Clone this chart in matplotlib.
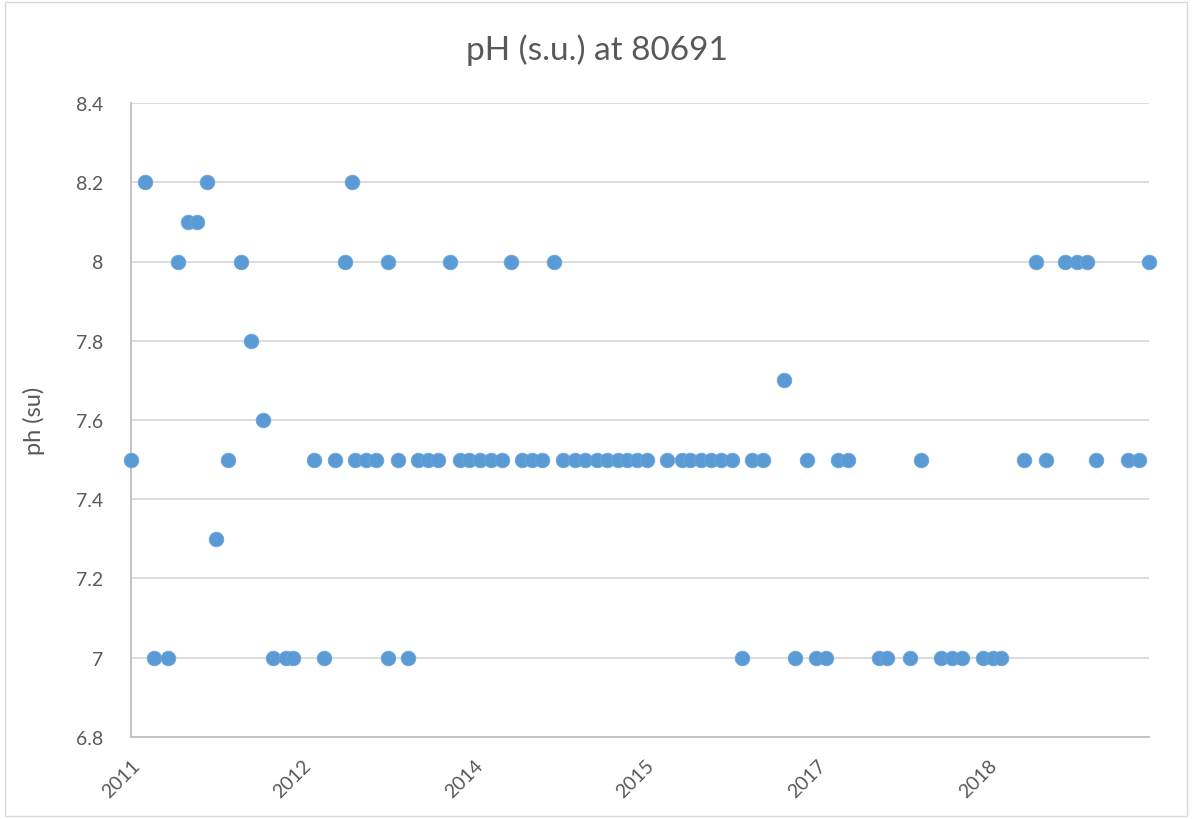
import matplotlib
matplotlib.use("Agg")
import matplotlib.pyplot as plt
import matplotlib.dates as mdates
from matplotlib.ticker import FuncFormatter, FixedLocator
from matplotlib.patches import Rectangle
import pandas as pd

dates = [
    "2011-01-01", "2011-02-14", "2011-03-15", "2011-04-28", "2011-05-31",
    "2011-07-01", "2011-07-30", "2011-08-31", "2011-09-28", "2011-11-08",
    "2011-12-17", "2012-01-19", "2012-02-26", "2012-03-30", "2012-05-10",
    "2012-06-02", "2012-08-08", "2012-09-09", "2012-10-14", "2012-11-15",
    "2012-12-07", "2012-12-17", "2013-01-21", "2013-02-22", "2013-04-01",
    "2013-04-01", "2013-05-03", "2013-06-04", "2013-07-06", "2013-08-07",
    "2013-09-08", "2013-10-16", "2013-11-17", "2013-12-16", "2014-01-20",
    "2014-02-24", "2014-03-31", "2014-04-29", "2014-06-03", "2014-07-04",
    "2014-08-06", "2014-09-13", "2014-10-12", "2014-11-20", "2014-12-22",
    "2015-01-29", "2015-03-02", "2015-04-06", "2015-05-05", "2015-06-06",
    "2015-07-08", "2015-09-10", "2015-10-28", "2015-11-22", "2015-12-27",
    "2016-01-28", "2016-02-29", "2016-04-04", "2016-05-06", "2016-06-07",
    "2016-07-12", "2016-09-17", "2016-10-23", "2016-11-30", "2016-12-29",
    "2017-01-30", "2017-03-07", "2017-04-08", "2017-07-16", "2017-08-13",
    "2017-10-23", "2017-11-30", "2018-01-30", "2018-03-09", "2018-04-10",
    "2018-06-16", "2018-07-17", "2018-08-12", "2018-10-24", "2018-12-01",
    "2019-01-03", "2019-03-04", "2019-04-11", "2019-05-13", "2019-06-11",
    "2019-09-21", "2019-10-26", "2019-11-27",
]
ph = [
    7.5, 8.2, 7.0, 7.0, 8.0,
    8.1, 8.1, 8.2, 7.3, 7.5,
    8.0, 7.8, 7.6, 7.0, 7.0,
    7.0, 7.5, 7.0, 7.5, 8.0,
    8.2, 7.5, 7.5, 7.5, 8.0,
    7.0, 7.5, 7.0, 7.5, 7.5,
    7.5, 8.0, 7.5, 7.5, 7.5,
    7.5, 7.5, 8.0, 7.5, 7.5,
    7.5, 8.0, 7.5, 7.5, 7.5,
    7.5, 7.5, 7.5, 7.5, 7.5,
    7.5, 7.5, 7.5, 7.5, 7.5,
    7.5, 7.5, 7.5, 7.0, 7.5,
    7.5, 7.7, 7.0, 7.5, 7.0,
    7.0, 7.5, 7.5, 7.0, 7.0,
    7.0, 7.5, 7.0, 7.0, 7.0,
    7.0, 7.0, 7.0, 7.5, 8.0,
    7.5, 8.0, 8.0, 8.0, 7.5,
    7.5, 7.5, 8.0,
]
x_tick_dates = ["2011-01-01", "2012-07-01", "2014-01-01", "2015-07-01", "2017-01-01", "2018-07-01"]
y_ticks = [6.8, 7.0, 7.2, 7.4, 7.6, 7.8, 8.0, 8.2, 8.4]

title = "pH (s.u.) at 80691"
ylabel = "ph (su)"

plt.rcParams['font.family'] = ['Lato', 'DejaVu Sans']

fig = plt.figure(figsize=(11.93, 8.20), dpi=100)
ax = fig.add_axes([131/1193, 1 - 738/820, (1149 - 131)/1193, (738 - 104)/820])

xd = pd.to_datetime(dates)
ax.plot(xd, ph, linestyle='none', marker='o', markersize=10.5,
        markerfacecolor='#5B9BD5', markeredgecolor='#6AA5DA', markeredgewidth=0.6,
        zorder=3, clip_on=False)

xt = pd.to_datetime(x_tick_dates)
ax.set_xlim(pd.Timestamp(dates[0]), pd.Timestamp(dates[-1]))
ax.xaxis.set_major_locator(FixedLocator(mdates.date2num(xt)))
ax.xaxis.set_major_formatter(mdates.DateFormatter('%Y'))
ax.set_ylim(6.8, 8.4)
ax.set_yticks(y_ticks)
ax.yaxis.set_major_formatter(FuncFormatter(lambda v, p: f"{v:g}"))

ax.grid(axis='y', color='#d9d9d9', linewidth=1.3)
ax.set_axisbelow(True)
for s in ['top', 'right']:
    ax.spines[s].set_visible(False)
ax.spines['left'].set_color('#bfbfbf')
ax.spines['bottom'].set_color('#bfbfbf')
ax.spines['left'].set_linewidth(1.3)
ax.spines['bottom'].set_linewidth(1.3)

ax.tick_params(axis='both', length=0, colors='#595959', labelsize=14)
ax.tick_params(axis='y', pad=20)
ax.tick_params(axis='x', pad=14)
for lab in ax.get_xticklabels():
    lab.set_rotation(45)
    lab.set_ha('right')
    lab.set_rotation_mode('anchor')

ax.set_ylabel(ylabel, fontsize=17, color='#595959', labelpad=22)
fig.text(0.5, 1 - 50/820, title, ha='center', va='center', fontsize=24, color='#595959')

fig.patches.append(Rectangle((5/1193, 3/820), 1182/1193, 814/820, transform=fig.transFigure,
                             fill=False, edgecolor='#d9d9d9', linewidth=1.0))

fig.savefig("out.png", dpi=100)
